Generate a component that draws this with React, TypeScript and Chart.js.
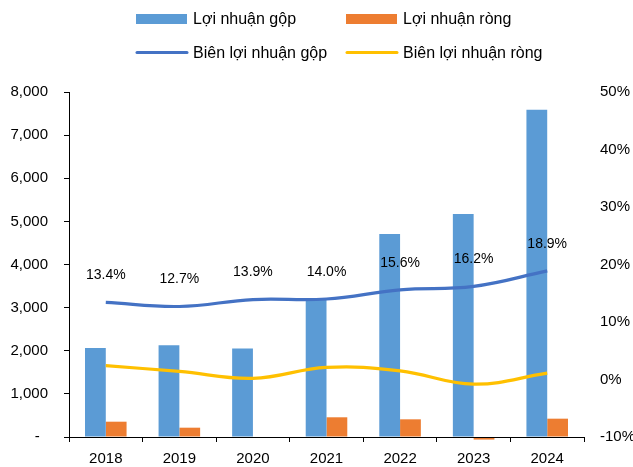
import React, { useEffect, useRef } from 'react';
import { Chart, registerables } from 'chart.js';

Chart.register(...registerables);

const years = ['2018', '2019', '2020', '2021', '2022', '2023', '2024'];
const grossProfit = [2065, 2130, 2050, 3177, 4707, 5171, 7590];
const netProfit = [355, 216, 0, 457, 410, -60, 425];
const grossMargin = [13.4, 12.7, 13.9, 14.0, 15.6, 16.2, 18.9];
const netMargin = [2.4, 1.4, 0.2, 2.1, 1.5, -0.8, 1.1];

const seriesNames = ['Lợi nhuận gộp', 'Lợi nhuận ròng', 'Biên lợi nhuận gộp', 'Biên lợi nhuận ròng'];
const colors = ['#5B9BD5', '#ED7D31', '#4472C4', '#FFC000'];

const FONT = "'Liberation Sans', Arial, sans-serif";

const legendPlugin = {
  id: 'gridLegend',
  afterDraw(chart: any) {
    const ctx = chart.ctx;
    const cols = [136, 346];
    const rows = [19, 52.5];
    ctx.save();
    ctx.font = `16px ${FONT}`;
    ctx.textBaseline = 'middle';
    ctx.textAlign = 'left';
    seriesNames.forEach((name, i) => {
      const cx = cols[i % 2];
      const cy = rows[Math.floor(i / 2)];
      if (i < 2) {
        ctx.fillStyle = colors[i];
        ctx.fillRect(cx, cy - 5, 51, 10);
      } else {
        ctx.strokeStyle = colors[i];
        ctx.lineWidth = 3;
        ctx.lineCap = 'round';
        ctx.beginPath();
        ctx.moveTo(cx + 1, cy);
        ctx.lineTo(cx + 51, cy);
        ctx.stroke();
      }
      ctx.fillStyle = '#000';
      ctx.fillText(name, cx + 57, cy + 1);
    });
    ctx.restore();
  },
};

const labelPlugin = {
  id: 'marginLabels',
  afterDatasetsDraw(chart: any) {
    const ctx = chart.ctx;
    const meta = chart.getDatasetMeta(2);
    ctx.save();
    ctx.font = `14px ${FONT}`;
    ctx.fillStyle = '#000';
    ctx.textAlign = 'center';
    ctx.textBaseline = 'middle';
    meta.data.forEach((pt: any, i: number) => {
      ctx.fillText(grossMargin[i].toFixed(1) + '%', pt.x, pt.y - 27);
    });
    ctx.restore();
  },
};

export default function App() {
  const ref = useRef<HTMLCanvasElement>(null);
  useEffect(() => {
    document.body.style.margin = '0';
    const chart = new Chart(ref.current!, {
      type: 'bar',
      data: {
        labels: years,
        datasets: [
          {
            type: 'bar',
            label: seriesNames[0],
            data: grossProfit,
            backgroundColor: colors[0],
            yAxisID: 'y',
            categoryPercentage: 0.565,
            barPercentage: 1,
            order: 2,
            clip: false,
          },
          {
            type: 'bar',
            label: seriesNames[1],
            data: netProfit,
            backgroundColor: colors[1],
            yAxisID: 'y',
            categoryPercentage: 0.565,
            barPercentage: 1,
            order: 2,
            clip: false,
          },
          {
            type: 'line',
            label: seriesNames[2],
            data: grossMargin,
            borderColor: colors[2],
            borderWidth: 3.2,
            pointRadius: 0,
            tension: 0.4,
            yAxisID: 'y1',
            order: 1,
          },
          {
            type: 'line',
            label: seriesNames[3],
            data: netMargin,
            borderColor: colors[3],
            borderWidth: 3.2,
            pointRadius: 0,
            tension: 0.4,
            yAxisID: 'y1',
            order: 1,
          },
        ] as any,
      },
      options: {
        responsive: false,
        animation: false,
        layout: { padding: { top: 92, left: 0, right: 0, bottom: 0 } },
        plugins: {
          legend: { display: false },
          tooltip: { enabled: false },
        },
        scales: {
          x: {
            type: 'category',
            offset: true,
            grid: {
              offset: true,
              drawOnChartArea: false,
              drawTicks: true,
              tickLength: 5,
              color: '#000',
            },
            border: { display: true, color: '#000', width: 1, z: 1 },
            ticks: { color: '#000', font: { family: FONT, size: 15 }, padding: 8 },
            afterFit: (s: any) => { s.height = 30; },
          },
          y: {
            position: 'left',
            min: 0,
            max: 8000,
            ticks: {
              stepSize: 1000,
              color: '#000',
              font: { family: FONT, size: 15 },
              padding: 16,
              callback: (v: any) => (Number(v) === 0 ? '-  ' : Number(v).toLocaleString('en-US')),
            },
            grid: {
              drawOnChartArea: false,
              drawTicks: true,
              tickLength: 5,
              color: '#000',
            },
            border: { display: true, color: '#000', width: 1 },
            afterFit: (s: any) => { s.width = 69; },
          },
          y1: {
            position: 'right',
            min: -10,
            max: 50,
            ticks: {
              stepSize: 10,
              color: '#000',
              font: { family: FONT, size: 15 },
              padding: 8,
              callback: (v: any) => Math.round(Number(v)) + '%',
            },
            grid: { display: false, drawOnChartArea: false },
            border: { display: false },
            afterFit: (s: any) => { s.width = 49; },
          },
        },
      } as any,
      plugins: [legendPlugin, labelPlugin],
    });
    return () => chart.destroy();
  }, []);
  return (
    <div style={{ width: 633, height: 467, background: '#fff' }}>
      <canvas ref={ref} width={633} height={467} />
    </div>
  );
}
